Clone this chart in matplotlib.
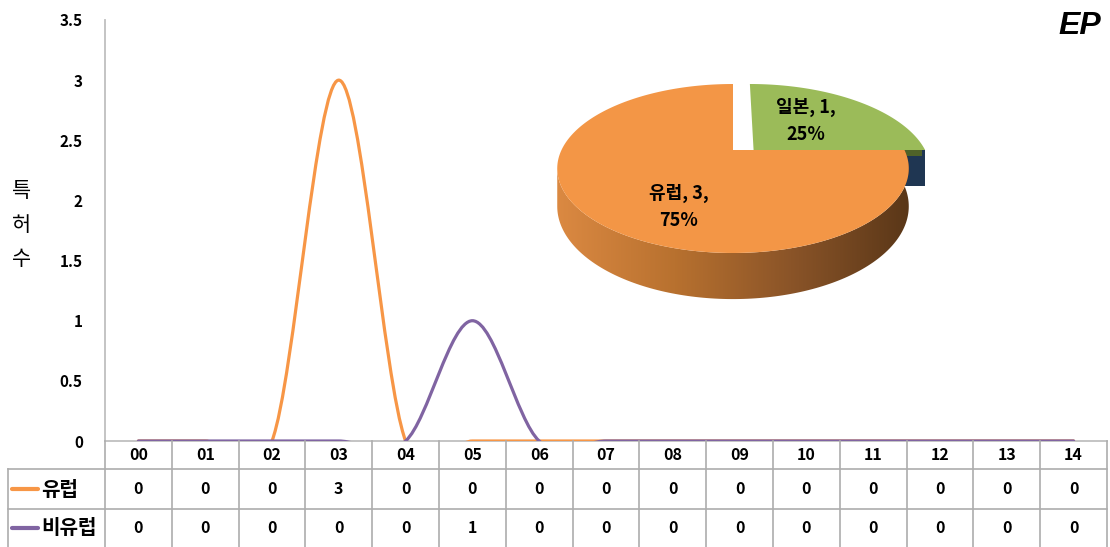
import numpy as np
import matplotlib
matplotlib.use("Agg")
import matplotlib.pyplot as plt
from matplotlib.path import Path
from matplotlib.patches import PathPatch, Polygon
from matplotlib.colors import LinearSegmentedColormap

plt.rcParams['font.family'] = ['Noto Sans CJK KR', 'DejaVu Sans']

# yearly patent counts
years = ['00', '01', '02', '03', '04', '05', '06', '07', '08', '09', '10', '11', '12', '13', '14']
europe = [0, 0, 0, 3, 0, 0, 0, 0, 0, 0, 0, 0, 0, 0, 0]
non_europe = [0, 0, 0, 0, 0, 1, 0, 0, 0, 0, 0, 0, 0, 0, 0]
series_names = ['유럽', '비유럽']
series_colors = ['#F79646', '#8064A2']

y_ticks = [0, 0.5, 1, 1.5, 2, 2.5, 3, 3.5]
y_tick_labels = ['0', '0.5', '1', '1.5', '2', '2.5', '3', '3.5']

# share by country (inset pie)
pie_labels = ['일본', '유럽']
pie_values = [1, 3]
pie_colors = ['#9BBB59', '#F39646']
pie_explode = [0.12, 0]

W, H = 1110, 547
fig = plt.figure(figsize=(W / 100, H / 100), dpi=100)

L, R, T, B = 105, 1107, 20, 441
ax = fig.add_axes([L / W, 1 - B / H, (R - L) / W, (B - T) / H])


def smooth_path(ys):
    # cubic bezier through the points, same smoothing as office charts
    pts = np.column_stack([np.arange(len(ys)), ys]).astype(float)
    ext = np.vstack([pts[0], pts, pts[-1]])
    verts = [pts[0]]
    codes = [Path.MOVETO]
    for i in range(len(pts) - 1):
        p0, p1, p2, p3 = ext[i], ext[i + 1], ext[i + 2], ext[i + 3]
        verts += [p1 + (p2 - p0) / 6, p2 - (p3 - p1) / 6, p2]
        codes += [Path.CURVE4] * 3
    return Path(verts, codes)


for ys, col, z in [(europe, series_colors[0], 3), (non_europe, series_colors[1], 4)]:
    ax.add_patch(PathPatch(smooth_path(ys), facecolor='none', edgecolor=col,
                           lw=2.3, zorder=z, capstyle='round'))

ax.set_xlim(-0.5, len(years) - 0.5)
ax.set_ylim(0, 3.5)
ax.set_xticks([])
ax.set_yticks(y_ticks)
ax.set_yticklabels(y_tick_labels, fontsize=11, fontweight='bold')
ax.tick_params(axis='y', length=0, pad=16)
for s in ['top', 'right']:
    ax.spines[s].set_visible(False)
for s in ['left', 'bottom']:
    ax.spines[s].set_color('#BFBFBF')
    ax.spines[s].set_linewidth(1.3)

fig.text(22 / W, 1 - 225 / H, '특\n허\n수', fontsize=15, ha='center', va='center',
         linespacing=1.7)
fig.text(1101 / W, 1 - 26 / H, 'EP', fontsize=23, ha='right', va='center',
         fontweight='bold', fontstyle='italic', family='Liberation Sans')

# overlay in pixel coordinates for the data table and the pie
lay = fig.add_axes([0, 0, 1, 1], zorder=5)
lay.axis('off')
lay.patch.set_visible(False)

cw = (R - L) / len(years)
grid = '#ADADAD'
rows_y = [B, 469, 509, H]
lay.plot([8, R], [rows_y[1]] * 2, color=grid, lw=1.2)
lay.plot([8, R], [rows_y[2]] * 2, color=grid, lw=1.2)
lay.plot([8, 8], [rows_y[1], H], color=grid, lw=1.2)
for i in range(len(years) + 1):
    lay.plot([L + i * cw] * 2, [B, H], color=grid, lw=1.2)

row_mid = [(rows_y[k] + rows_y[k + 1]) / 2 for k in range(3)]
for i, yr in enumerate(years):
    xc = L + (i + 0.5) * cw
    lay.text(xc, row_mid[0], yr, ha='center', va='center', fontsize=11.5, fontweight='bold')
    lay.text(xc, row_mid[1], str(europe[i]), ha='center', va='center', fontsize=11.5, fontweight='bold')
    lay.text(xc, row_mid[2], str(non_europe[i]), ha='center', va='center', fontsize=11.5, fontweight='bold')

for k, (name, col) in enumerate(zip(series_names, series_colors)):
    yy = row_mid[k + 1]
    lay.plot([12, 38], [yy, yy], color=col, lw=3, solid_capstyle='round')
    lay.text(41, yy, name, ha='left', va='center', fontsize=14.5, fontweight='bold')

# 3D pie seen in perspective: ground-plane point (X, Z), Z toward the viewer
cx, cy = 733, 150
D = 4.568
K = 1678.6
F = 171.5 * D
depth0 = 36


def proj(X, Z, lift=0.0):
    d = D - Z
    return np.column_stack([cx + F * X / d, cy + K / d - K / D + lift * D / d])


def rim(t_deg, dx=0.0, lift=0.0):
    t = np.radians(t_deg)
    return proj(np.cos(t) + dx, -np.sin(t), lift)


vals = np.array(pie_values, dtype=float)
cum = np.concatenate([[0], np.cumsum(vals) / vals.sum()])
starts = 90 - 360 * cum[:-1]
ends = 90 - 360 * cum[1:]
mids = (starts + ends) / 2
offs = [e * np.cos(np.radians(m)) / np.cos(np.radians(45)) for e, m in zip(pie_explode, mids)]

# radial wall of the exploded slice, facing the viewer
g = offs[0]
wall = np.vstack([proj(np.array([g, 1 + g]), np.zeros(2)),
                  proj(np.array([1 + g, g]), np.zeros(2), depth0)])
lay.add_patch(Polygon(wall, closed=True, facecolor='#1F3652', edgecolor='none', zorder=1))
strip = np.vstack([proj(np.array([g, 0.98 + g]), np.zeros(2)),
                   proj(np.array([0.98 + g, g]), np.zeros(2), 6)])
lay.add_patch(Polygon(strip, closed=True, facecolor='#4F6228', edgecolor='none', zorder=1.5))

# front side of the large slice with a shaded gradient
t_sil = 180 + np.degrees(np.arcsin(1 / D))
tt = np.linspace(t_sil, 360, 160)
top = rim(tt)
bot = rim(tt, lift=depth0)
side = Polygon(np.vstack([top, bot[::-1]]), closed=True, facecolor='none', edgecolor='none')
lay.add_patch(side)
shade = LinearSegmentedColormap.from_list('shade', ['#DB8942', '#B8712F', '#8A5428', '#5A3718'])
x_lo, x_hi = top[:, 0].min(), top[:, 0].max()
grad = lay.imshow(np.linspace(0, 1, 256)[None, :], cmap=shade, aspect='auto',
                  extent=[x_lo, x_hi, bot[:, 1].max() + 2, cy], zorder=2)
grad.set_clip_path(side)

# top faces
for k in range(len(vals)):
    ts = np.linspace(starts[k], ends[k], 240)
    apex = proj(np.array([offs[k]]), np.zeros(1))
    face = np.vstack([apex, rim(ts, offs[k])])
    lay.add_patch(Polygon(face, closed=True, facecolor=pie_colors[k], edgecolor='none', zorder=3))

pct = vals / vals.sum() * 100
label_pos = [(806, 121), (679, 207)]
for k, (x, y) in enumerate(label_pos):
    lay.text(x, y, f'{pie_labels[k]}, {pie_values[k]},\n{pct[k]:.0f}%', ha='center', va='center',
             fontsize=13, fontweight='bold', linespacing=1.5, zorder=4)

lay.set_xlim(0, W)
lay.set_ylim(H, 0)

fig.savefig('out.png', dpi=100)
